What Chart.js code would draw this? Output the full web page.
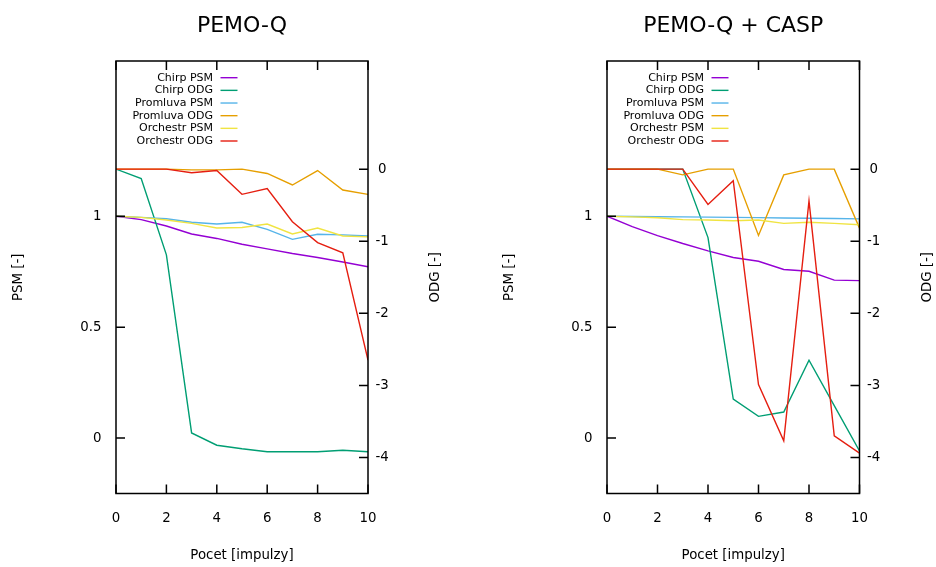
<!DOCTYPE html>
<html>
<head>
<meta charset="utf-8">
<script src="https://cdn.jsdelivr.net/npm/chart.js@4"></script>
<style>
  body { margin: 0; background: #fff; }
  #wrap { position: relative; width: 936px; height: 567px; }
  .box { position: absolute; top: 0; width: 468px; height: 567px; }
</style>
</head>
<body>
<div id="wrap">
  <div class="box" style="left:0"><canvas id="chartA" width="468" height="567"></canvas></div>
  <div class="box" style="left:468px"><canvas id="chartB" width="468" height="567"></canvas></div>
</div>
<script>
// pocet impulzu (x)
const pocet = [0, 1, 2, 3, 4, 5, 6, 7, 8, 9, 10]
const xTicks = [0, 2, 4, 6, 8, 10]
const psmTicks = [0, 0.5, 1]
const odgTicks = [0, -1, -2, -3, -4]
const seriesNames = ['Chirp PSM', 'Chirp ODG', 'Promluva PSM', 'Promluva ODG', 'Orchestr PSM', 'Orchestr ODG']

// PEMO-Q
const chirpPsmA = [1.0, 0.985, 0.956, 0.92, 0.90, 0.874, 0.853, 0.832, 0.814, 0.794, 0.772]
const chirpOdgA = [0, -0.13, -1.19, -3.66, -3.83, -3.88, -3.92, -3.92, -3.92, -3.90, -3.92]
const promPsmA = [1.0, 0.995, 0.989, 0.973, 0.965, 0.973, 0.941, 0.896, 0.919, 0.916, 0.911]
const promOdgA = [0, 0, 0, -0.01, -0.01, 0.0, -0.06, -0.22, -0.02, -0.29, -0.35]
const orchPsmA = [1.0, 0.995, 0.983, 0.968, 0.947, 0.949, 0.965, 0.92, 0.947, 0.911, 0.907]
const orchOdgA = [0, 0, 0, -0.05, -0.02, -0.35, -0.27, -0.73, -1.02, -1.16, -2.65]

// PEMO-Q + CASP
const chirpPsmB = [1.0, 0.953, 0.913, 0.877, 0.844, 0.814, 0.797, 0.760, 0.752, 0.712, 0.71]
const chirpOdgB = [0, 0, 0, 0, -0.95, -3.19, -3.43, -3.37, -2.65, -3.28, -3.91]
const promPsmB = [1.0, 0.999, 0.998, 0.997, 0.996, 0.995, 0.994, 0.992, 0.991, 0.99, 0.988]
const promOdgB = [0, 0, 0, -0.08, 0, 0, -0.92, -0.08, 0, 0, -0.82]
const orchPsmB = [1.0, 0.997, 0.993, 0.985, 0.983, 0.98, 0.983, 0.968, 0.973, 0.968, 0.962]
const orchOdgB = [0, 0, 0, 0, -0.49, -0.16, -2.99, -3.77, -0.44, -3.70, -3.94]

const colors = ['#9400d3', '#009e73', '#56b4e9', '#e69f00', '#f0e442', '#e51e10']
const FONT = "'DejaVu Sans', sans-serif"

Chart.defaults.font.family = FONT
Chart.defaults.font.size = 13.33
Chart.defaults.color = '#000'

// ramecek + ticky dovnitr, legenda a popisky
const gnuplotLook = {
    id: 'gnuplotLook',
    afterDatasetsDraw(chart, args, opts) {
        const { ctx, chartArea: a, scales } = chart
        ctx.save()
        ctx.strokeStyle = '#000'
        ctx.lineWidth = 1.5
        ctx.strokeRect(a.left, a.top, a.right - a.left, a.bottom - a.top)
        const tl = 9
        ctx.beginPath()
        scales.x.ticks.forEach(t => {
            const px = scales.x.getPixelForValue(t.value)
            ctx.moveTo(px, a.bottom); ctx.lineTo(px, a.bottom - tl)
            ctx.moveTo(px, a.top); ctx.lineTo(px, a.top + tl)
        })
        scales.y.ticks.forEach(t => {
            const py = scales.y.getPixelForValue(t.value)
            ctx.moveTo(a.left, py); ctx.lineTo(a.left + tl, py)
        })
        scales.y2.ticks.forEach(t => {
            const py = scales.y2.getPixelForValue(t.value)
            ctx.moveTo(a.right, py); ctx.lineTo(a.right - tl, py)
        })
        ctx.stroke()

        // legenda
        ctx.font = '11px ' + FONT
        ctx.textAlign = 'right'
        ctx.textBaseline = 'middle'
        chart.data.datasets.forEach((ds, i) => {
            const y = a.top + 16.7 + i * 12.66
            ctx.fillStyle = '#000'
            ctx.fillText(ds.label, a.left + 97, y)
            ctx.strokeStyle = ds.borderColor
            ctx.lineWidth = 1.4
            ctx.beginPath()
            ctx.moveTo(a.left + 104.5, y); ctx.lineTo(a.left + 121.5, y)
            ctx.stroke()
        })

        // titulky
        const cx = (a.left + a.right) / 2
        const cy = (a.top + a.bottom) / 2
        ctx.fillStyle = '#000'
        ctx.textAlign = 'center'
        ctx.textBaseline = 'alphabetic'
        ctx.font = '22px ' + FONT
        ctx.fillText(opts.title, cx, 31.6)
        ctx.font = '13.33px ' + FONT
        ctx.textBaseline = 'middle'
        ctx.fillText('Pocet [impulzy]', cx, 556)
        ctx.save()
        ctx.translate(a.left - 97, cy)
        ctx.rotate(-Math.PI / 2)
        ctx.fillText('PSM [-]', 0, 0)
        ctx.restore()
        ctx.save()
        ctx.translate(a.right + 68, cy)
        ctx.rotate(-Math.PI / 2)
        ctx.fillText('ODG [-]', 0, 0)
        ctx.restore()
        ctx.restore()
    }
}

const makeChart = (id, title, series, leftW, rightW) => {
    const datasets = series.map((vals, i) => ({
        label: seriesNames[i],
        data: pocet.map((x, j) => ({ x: x, y: vals[j] })),
        yAxisID: i % 2 === 0 ? 'y' : 'y2',
        borderColor: colors[i],
        borderWidth: 1.4,
        pointRadius: 0,
        tension: 0,
        fill: false,
        order: -i
    }))

    return new Chart(document.getElementById(id), {
        type: 'line',
        data: { datasets: datasets },
        options: {
            responsive: false,
            animation: false,
            layout: { padding: { top: 61, left: 0, right: 0, bottom: 0 } },
            plugins: {
                legend: { display: false },
                tooltip: { enabled: false },
                gnuplotLook: { title: title }
            },
            scales: {
                x: {
                    type: 'linear', min: 0, max: 10,
                    grid: { display: false, drawTicks: false },
                    border: { display: false },
                    afterBuildTicks: s => { s.ticks = xTicks.map(v => ({ value: v })) },
                    afterFit: s => { s.height = 73.5 },
                    ticks: { padding: 17.5, maxRotation: 0, callback: v => String(v) }
                },
                y: {
                    position: 'left', min: -0.25, max: 1.7,
                    grid: { display: false, drawTicks: false },
                    border: { display: false },
                    afterBuildTicks: s => { s.ticks = psmTicks.map(v => ({ value: v })) },
                    afterFit: s => { s.width = leftW },
                    ticks: { padding: 14.5, callback: v => String(v) }
                },
                y2: {
                    position: 'right', min: -4.5, max: 1.5,
                    grid: { display: false, drawTicks: false },
                    border: { display: false },
                    afterBuildTicks: s => { s.ticks = odgTicks.map(v => ({ value: v })) },
                    afterFit: s => { s.width = rightW },
                    ticks: { padding: 7.5, crossAlign: 'center', callback: v => String(v) }
                }
            }
        },
        plugins: [gnuplotLook]
    })
}

makeChart('chartA', 'PEMO-Q', [chirpPsmA, chirpOdgA, promPsmA, promOdgA, orchPsmA, orchOdgA], 116, 100)
makeChart('chartB', 'PEMO-Q + CASP', [chirpPsmB, chirpOdgB, promPsmB, promOdgB, orchPsmB, orchOdgB], 139, 76.5)
</script>
</body>
</html>
